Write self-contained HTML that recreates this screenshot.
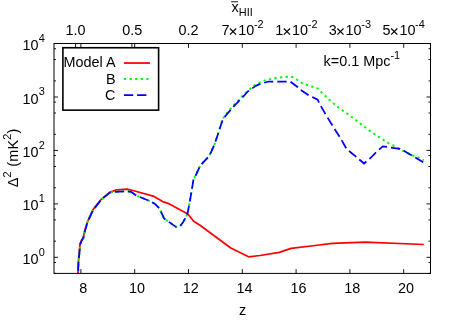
<!DOCTYPE html>
<html><head><meta charset="utf-8"><title>plot</title>
<style>
html,body{margin:0;padding:0;background:#fff;overflow:hidden;}
body{width:457px;height:320px;overflow:hidden;}
svg{display:block;will-change:transform;}
text{font-family:"Liberation Sans",sans-serif;fill:#000;}
</style></head><body>
<svg width="457" height="320" viewBox="0 0 457 320">
<rect x="0" y="0" width="457" height="320" fill="#fff"/>
<path d="M77.9 273.4 L78.3 262.8 L79.2 252.8 L80.1 243.6 L81.3 240.8 L83.2 237.7 L84.5 231.8 L87.5 221.5 L93.2 209.3 L101.1 199.5 L109.6 192.4 L116.6 189.8 L127.1 189.2 L133.0 190.5 L154.0 196.4 L162.7 201.6 L169.4 203.9 L187.8 214.0 L193.7 221.3 L200.0 225.3 L230.8 248.0 L248.6 256.8 L260.0 255.5 L279.3 252.3 L291.1 248.3 L315.0 245.5 L332.3 243.3 L365.1 242.2 L423.8 244.5" fill="none" stroke="#ff0000" stroke-width="1.75" stroke-linejoin="round"/>
<path d="M78.1 273.4 L78.5 263.0 L79.4 253.0 L80.3 243.8 L81.5 241.0 L83.4 237.9 L84.7 232.0 L87.7 221.7 L93.4 209.5 L101.3 199.7 L109.8 192.6 L115.2 191.8 L126.4 191.2 L131.0 191.8 L136.3 195.5 L151.4 201.7 L155.0 203.9 L159.4 208.3 L164.2 218.6 L168.8 221.9 L176.0 226.9 L179.9 226.5 L183.2 221.9 L185.9 217.3 L187.8 212.1 L189.8 201.6 L191.6 191.1 L193.5 179.3 L195.8 175.3 L200.3 165.5 L208.1 157.2 L210.8 152.8 L215.3 142.3 L218.9 131.1 L222.1 120.3 L224.5 116.4 L231.5 107.5 L239.3 99.3 L243.2 95.1 L247.2 91.2 L251.1 87.9 L255.6 84.5 L260.9 82.0 L266.0 80.0 L276.5 77.8 L287.7 76.7 L292.3 76.9 L297.6 80.1 L302.2 83.2 L307.5 85.1 L312.7 86.7 L317.6 88.4 L321.9 92.7 L329.8 100.2 L338.3 107.5 L347.5 113.8 L369.5 130.7 L378.7 136.8 L387.9 142.8 L393.2 145.5 L397.8 147.8 L402.7 150.7 L412.9 155.5 L417.9 157.4 L423.8 160.2" fill="none" stroke="#00ff00" stroke-width="2.0" stroke-dasharray="2.3 3.3" stroke-dashoffset="4.0" stroke-linejoin="round"/>
<path d="M78.1 273.4 L78.5 263.0 L79.4 253.0 L80.3 243.8 L81.5 241.0 L83.4 237.9 L84.7 232.0 L87.7 221.7 L93.4 209.5 L101.3 199.7 L109.8 192.6 L115.2 191.8 L126.4 191.2 L131.0 191.8 L136.3 195.5 L151.4 201.7 L155.0 203.9 L159.4 208.3 L164.2 218.6 L168.8 221.9 L176.0 226.9 L179.9 226.5 L183.2 221.9 L185.9 217.3 L187.8 212.1 L189.8 201.6 L191.6 191.1 L193.5 179.3 L195.8 175.3 L200.3 165.5 L208.1 157.2 L210.8 152.8 L215.3 142.3 L218.9 131.1 L222.4 120.7 L224.8 116.8 L232.1 108.0 L239.9 100.1 L247.8 91.5 L255.7 85.9 L260.8 83.7 L268.6 81.5 L290.3 81.5 L297.5 87.0 L301.6 90.6 L308.8 95.4 L317.6 99.6 L321.3 106.9 L325.5 114.2 L332.7 126.0 L339.9 137.2 L346.6 149.0 L357.1 157.6 L364.0 163.5 L370.5 158.0 L376.1 152.3 L382.8 146.4 L387.9 147.1 L399.5 148.9 L405.1 151.4 L412.5 155.8 L424.3 163.0" fill="none" stroke="#0000ff" stroke-width="1.75" stroke-dasharray="9.3 4.0" stroke-dashoffset="11.1" stroke-linejoin="round"/>
<rect x="54.0" y="43.5" width="376.5" height="229.9" fill="none" stroke="#000" stroke-width="1"/>
<line x1="80.9" y1="273.4" x2="80.9" y2="269.1" stroke="#000" stroke-width="0.9"/>
<line x1="80.9" y1="43.5" x2="80.9" y2="47.8" stroke="#000" stroke-width="0.9"/>
<line x1="134.7" y1="273.4" x2="134.7" y2="269.1" stroke="#000" stroke-width="0.9"/>
<line x1="134.7" y1="43.5" x2="134.7" y2="47.8" stroke="#000" stroke-width="0.9"/>
<line x1="188.5" y1="273.4" x2="188.5" y2="269.1" stroke="#000" stroke-width="0.9"/>
<line x1="188.5" y1="43.5" x2="188.5" y2="47.8" stroke="#000" stroke-width="0.9"/>
<line x1="242.3" y1="273.4" x2="242.3" y2="269.1" stroke="#000" stroke-width="0.9"/>
<line x1="242.3" y1="43.5" x2="242.3" y2="47.8" stroke="#000" stroke-width="0.9"/>
<line x1="296.1" y1="273.4" x2="296.1" y2="269.1" stroke="#000" stroke-width="0.9"/>
<line x1="296.1" y1="43.5" x2="296.1" y2="47.8" stroke="#000" stroke-width="0.9"/>
<line x1="349.9" y1="273.4" x2="349.9" y2="269.1" stroke="#000" stroke-width="0.9"/>
<line x1="349.9" y1="43.5" x2="349.9" y2="47.8" stroke="#000" stroke-width="0.9"/>
<line x1="403.7" y1="273.4" x2="403.7" y2="269.1" stroke="#000" stroke-width="0.9"/>
<line x1="403.7" y1="43.5" x2="403.7" y2="47.8" stroke="#000" stroke-width="0.9"/>
<line x1="75.6" y1="43.5" x2="75.6" y2="47.8" stroke="#000" stroke-width="0.9"/>
<line x1="131.9" y1="43.5" x2="131.9" y2="47.8" stroke="#000" stroke-width="0.9"/>
<line x1="54.0" y1="257.3" x2="58.0" y2="257.3" stroke="#000" stroke-width="0.9"/>
<line x1="430.5" y1="257.3" x2="426.5" y2="257.3" stroke="#000" stroke-width="0.9"/>
<line x1="54.0" y1="203.9" x2="58.0" y2="203.9" stroke="#000" stroke-width="0.9"/>
<line x1="430.5" y1="203.9" x2="426.5" y2="203.9" stroke="#000" stroke-width="0.9"/>
<line x1="54.0" y1="150.4" x2="58.0" y2="150.4" stroke="#000" stroke-width="0.9"/>
<line x1="430.5" y1="150.4" x2="426.5" y2="150.4" stroke="#000" stroke-width="0.9"/>
<line x1="54.0" y1="97.0" x2="58.0" y2="97.0" stroke="#000" stroke-width="0.9"/>
<line x1="430.5" y1="97.0" x2="426.5" y2="97.0" stroke="#000" stroke-width="0.9"/>
<line x1="54.0" y1="43.5" x2="58.0" y2="43.5" stroke="#000" stroke-width="0.9"/>
<line x1="430.5" y1="43.5" x2="426.5" y2="43.5" stroke="#000" stroke-width="0.9"/>
<line x1="54.0" y1="273.4" x2="56.0" y2="273.4" stroke="#000" stroke-width="0.9"/>
<line x1="430.5" y1="273.4" x2="428.5" y2="273.4" stroke="#000" stroke-width="0.9"/>
<line x1="54.0" y1="262.5" x2="56.0" y2="262.5" stroke="#000" stroke-width="0.9"/>
<line x1="430.5" y1="262.5" x2="428.5" y2="262.5" stroke="#000" stroke-width="0.9"/>
<line x1="54.0" y1="241.2" x2="56.0" y2="241.2" stroke="#000" stroke-width="0.9"/>
<line x1="430.5" y1="241.2" x2="428.5" y2="241.2" stroke="#000" stroke-width="0.9"/>
<line x1="54.0" y1="219.9" x2="56.0" y2="219.9" stroke="#000" stroke-width="0.9"/>
<line x1="430.5" y1="219.9" x2="428.5" y2="219.9" stroke="#000" stroke-width="0.9"/>
<line x1="54.0" y1="209.0" x2="56.0" y2="209.0" stroke="#000" stroke-width="0.9"/>
<line x1="430.5" y1="209.0" x2="428.5" y2="209.0" stroke="#000" stroke-width="0.9"/>
<line x1="54.0" y1="187.8" x2="56.0" y2="187.8" stroke="#000" stroke-width="0.9"/>
<line x1="430.5" y1="187.8" x2="428.5" y2="187.8" stroke="#000" stroke-width="0.9"/>
<line x1="54.0" y1="166.5" x2="56.0" y2="166.5" stroke="#000" stroke-width="0.9"/>
<line x1="430.5" y1="166.5" x2="428.5" y2="166.5" stroke="#000" stroke-width="0.9"/>
<line x1="54.0" y1="155.6" x2="56.0" y2="155.6" stroke="#000" stroke-width="0.9"/>
<line x1="430.5" y1="155.6" x2="428.5" y2="155.6" stroke="#000" stroke-width="0.9"/>
<line x1="54.0" y1="134.3" x2="56.0" y2="134.3" stroke="#000" stroke-width="0.9"/>
<line x1="430.5" y1="134.3" x2="428.5" y2="134.3" stroke="#000" stroke-width="0.9"/>
<line x1="54.0" y1="113.0" x2="56.0" y2="113.0" stroke="#000" stroke-width="0.9"/>
<line x1="430.5" y1="113.0" x2="428.5" y2="113.0" stroke="#000" stroke-width="0.9"/>
<line x1="54.0" y1="102.1" x2="56.0" y2="102.1" stroke="#000" stroke-width="0.9"/>
<line x1="430.5" y1="102.1" x2="428.5" y2="102.1" stroke="#000" stroke-width="0.9"/>
<line x1="54.0" y1="80.9" x2="56.0" y2="80.9" stroke="#000" stroke-width="0.9"/>
<line x1="430.5" y1="80.9" x2="428.5" y2="80.9" stroke="#000" stroke-width="0.9"/>
<line x1="54.0" y1="59.6" x2="56.0" y2="59.6" stroke="#000" stroke-width="0.9"/>
<line x1="430.5" y1="59.6" x2="428.5" y2="59.6" stroke="#000" stroke-width="0.9"/>
<line x1="54.0" y1="48.7" x2="56.0" y2="48.7" stroke="#000" stroke-width="0.9"/>
<line x1="430.5" y1="48.7" x2="428.5" y2="48.7" stroke="#000" stroke-width="0.9"/>
<rect x="62.9" y="47.75" width="95.7" height="62.4" fill="#fff" stroke="#000" stroke-width="1.6"/>
<line x1="123.9" y1="63.05" x2="150.0" y2="63.05" stroke="#ff0000" stroke-width="1.75"/>
<line x1="123.9" y1="79.0" x2="150.0" y2="79.0" stroke="#00ff00" stroke-width="2.0" stroke-dasharray="2.3 3.3"/>
<line x1="123.9" y1="95.2" x2="150.0" y2="95.2" stroke="#0000ff" stroke-width="1.75" stroke-dasharray="9.3 3.9"/>
<text x="83.2" y="292.6" font-size="14.4" text-anchor="middle" >8</text>
<text x="137.0" y="292.6" font-size="14.4" text-anchor="middle" >10</text>
<text x="190.8" y="292.6" font-size="14.4" text-anchor="middle" >12</text>
<text x="244.6" y="292.6" font-size="14.4" text-anchor="middle" >14</text>
<text x="298.4" y="292.6" font-size="14.4" text-anchor="middle" >16</text>
<text x="352.2" y="292.6" font-size="14.4" text-anchor="middle" >18</text>
<text x="406.0" y="292.6" font-size="14.4" text-anchor="middle" >20</text>
<text x="242.5" y="314.9" font-size="14.4" text-anchor="middle" >z</text>
<text x="38.6" y="263.8" font-size="14.4" text-anchor="end" >10</text>
<text x="38.8" y="255.7" font-size="10.9" text-anchor="start" >0</text>
<text x="38.6" y="210.4" font-size="14.4" text-anchor="end" >10</text>
<text x="38.8" y="202.3" font-size="10.9" text-anchor="start" >1</text>
<text x="38.6" y="156.9" font-size="14.4" text-anchor="end" >10</text>
<text x="38.8" y="148.8" font-size="10.9" text-anchor="start" >2</text>
<text x="38.6" y="103.5" font-size="14.4" text-anchor="end" >10</text>
<text x="38.8" y="95.4" font-size="10.9" text-anchor="start" >3</text>
<text x="38.6" y="50.0" font-size="14.4" text-anchor="end" >10</text>
<text x="38.8" y="41.9" font-size="10.9" text-anchor="start" >4</text>
<text x="75.6" y="34.5" font-size="14.4" text-anchor="middle" >1.0</text>
<text x="132.2" y="34.5" font-size="14.4" text-anchor="middle" >0.5</text>
<text x="188.5" y="34.5" font-size="14.4" text-anchor="middle" >0.2</text>
<text x="221.4" y="34.6" font-size="14.4">7</text>
<path d="M229.95 28.50 L236.15 34.70 M229.95 34.70 L236.15 28.50" stroke="#000" stroke-width="1.15" fill="none"/>
<text x="238.2" y="34.6" font-size="14.4">10</text>
<text x="253.9" y="27.6" font-size="10.9">-2</text>
<text x="275.3" y="34.6" font-size="14.4">1</text>
<path d="M283.85 28.50 L290.05 34.70 M283.85 34.70 L290.05 28.50" stroke="#000" stroke-width="1.15" fill="none"/>
<text x="292.1" y="34.6" font-size="14.4">10</text>
<text x="307.8" y="27.6" font-size="10.9">-2</text>
<text x="328.8" y="34.6" font-size="14.4">3</text>
<path d="M337.35 28.50 L343.55 34.70 M337.35 34.70 L343.55 28.50" stroke="#000" stroke-width="1.15" fill="none"/>
<text x="345.6" y="34.6" font-size="14.4">10</text>
<text x="361.3" y="27.6" font-size="10.9">-3</text>
<text x="382.6" y="34.6" font-size="14.4">5</text>
<path d="M391.15 28.50 L397.35 34.70 M391.15 34.70 L397.35 28.50" stroke="#000" stroke-width="1.15" fill="none"/>
<text x="399.4" y="34.6" font-size="14.4">10</text>
<text x="415.1" y="27.6" font-size="10.9">-4</text>
<text x="231.6" y="11.9" font-size="14.4">x<tspan dy="4.5" font-size="10.9">HII</tspan></text>
<line x1="231.1" y1="1.8" x2="238.0" y2="1.8" stroke="#000" stroke-width="0.9"/>
<text x="323.6" y="65.7" font-size="14.4">k=0.1 Mpc<tspan dy="-6.9" font-size="10.9">-1</tspan></text>
<text x="115.5" y="67.3" font-size="14.4" text-anchor="end" >Model A</text>
<text x="115.5" y="83.6" font-size="14.4" text-anchor="end" >B</text>
<text x="115.5" y="99.8" font-size="14.4" text-anchor="end" >C</text>
<g transform="translate(18.3,187.3) rotate(-90)"><text x="0" y="0" font-size="14.4" letter-spacing="0.25">Δ<tspan dy="-7.0" font-size="10.9">2</tspan><tspan dy="7.0" font-size="14.4"> (mK</tspan><tspan dy="-7.0" font-size="10.9">2</tspan><tspan dy="7.0" font-size="14.4">)</tspan></text></g>
</svg>
</body></html>
